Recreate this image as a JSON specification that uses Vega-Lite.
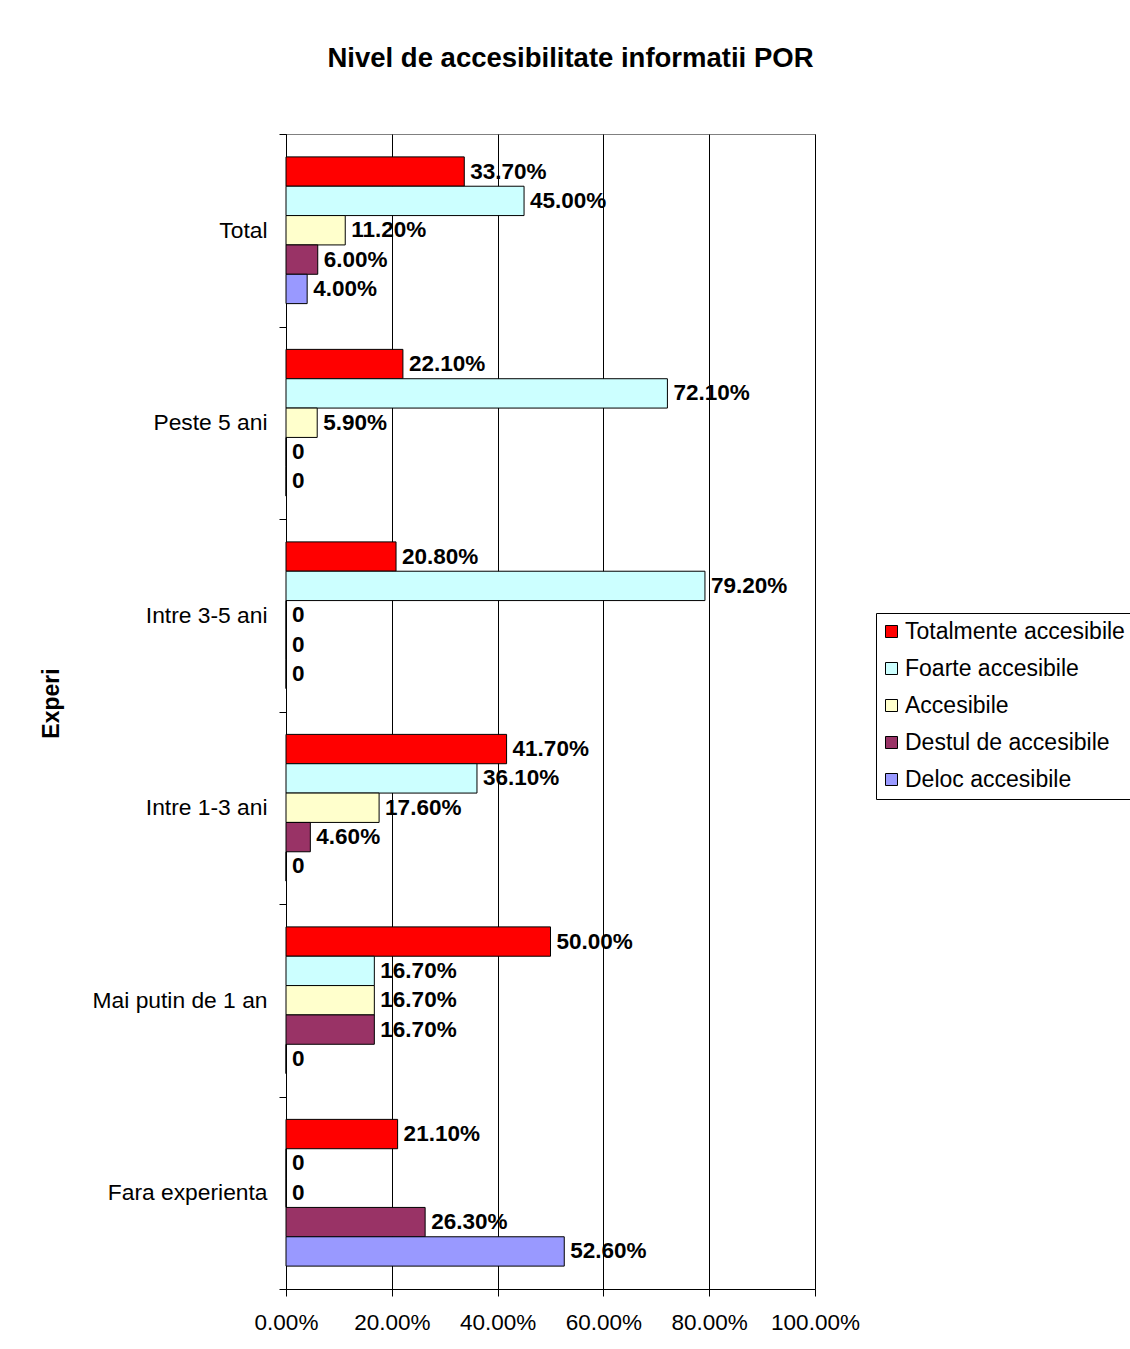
{
  "$schema": "https://vega.github.io/schema/vega-lite/v6.json",
  "autosize": {"type": "none"},
  "padding": {"left": 286, "top": 134, "right": 315, "bottom": 60},
  "width": 529,
  "height": 1155,
  "background": "white",
  "title": {
    "text": "Nivel de accesibilitate informatii POR",
    "fontSize": 27.5,
    "fontWeight": "bold",
    "font": "Liberation Sans",
    "color": "black",
    "anchor": "middle",
    "baseline": "alphabetic",
    "offset": 29,
    "dx": 20
  },
  "data": {
    "values": [
      {"cat": "Total", "series": "Totalmente accesibile", "v": 0.337},
      {"cat": "Total", "series": "Foarte accesibile", "v": 0.45},
      {"cat": "Total", "series": "Accesibile", "v": 0.112},
      {"cat": "Total", "series": "Destul de accesibile", "v": 0.06},
      {"cat": "Total", "series": "Deloc accesibile", "v": 0.04},
      {"cat": "Peste 5 ani", "series": "Totalmente accesibile", "v": 0.221},
      {"cat": "Peste 5 ani", "series": "Foarte accesibile", "v": 0.721},
      {"cat": "Peste 5 ani", "series": "Accesibile", "v": 0.059},
      {"cat": "Peste 5 ani", "series": "Destul de accesibile", "v": 0},
      {"cat": "Peste 5 ani", "series": "Deloc accesibile", "v": 0},
      {"cat": "Intre 3-5 ani", "series": "Totalmente accesibile", "v": 0.208},
      {"cat": "Intre 3-5 ani", "series": "Foarte accesibile", "v": 0.792},
      {"cat": "Intre 3-5 ani", "series": "Accesibile", "v": 0},
      {"cat": "Intre 3-5 ani", "series": "Destul de accesibile", "v": 0},
      {"cat": "Intre 3-5 ani", "series": "Deloc accesibile", "v": 0},
      {"cat": "Intre 1-3 ani", "series": "Totalmente accesibile", "v": 0.417},
      {"cat": "Intre 1-3 ani", "series": "Foarte accesibile", "v": 0.361},
      {"cat": "Intre 1-3 ani", "series": "Accesibile", "v": 0.176},
      {"cat": "Intre 1-3 ani", "series": "Destul de accesibile", "v": 0.046},
      {"cat": "Intre 1-3 ani", "series": "Deloc accesibile", "v": 0},
      {"cat": "Mai putin de 1 an", "series": "Totalmente accesibile", "v": 0.5},
      {"cat": "Mai putin de 1 an", "series": "Foarte accesibile", "v": 0.167},
      {"cat": "Mai putin de 1 an", "series": "Accesibile", "v": 0.167},
      {"cat": "Mai putin de 1 an", "series": "Destul de accesibile", "v": 0.167},
      {"cat": "Mai putin de 1 an", "series": "Deloc accesibile", "v": 0},
      {"cat": "Fara experienta", "series": "Totalmente accesibile", "v": 0.211},
      {"cat": "Fara experienta", "series": "Foarte accesibile", "v": 0},
      {"cat": "Fara experienta", "series": "Accesibile", "v": 0},
      {"cat": "Fara experienta", "series": "Destul de accesibile", "v": 0.263},
      {"cat": "Fara experienta", "series": "Deloc accesibile", "v": 0.526}
    ]
  },
  "transform": [
    {"calculate": "datum.v == 0 ? '0' : format(datum.v, '.2%')", "as": "label"}
  ],
  "encoding": {
    "y": {
      "field": "cat",
      "type": "nominal",
      "sort": ["Total", "Peste 5 ani", "Intre 3-5 ani", "Intre 1-3 ani", "Mai putin de 1 an", "Fara experienta"],
      "scale": {"paddingInner": 0, "paddingOuter": 0},
      "axis": {
        "title": "Experi",
        "titleFont": "Liberation Sans",
        "titleFontSize": 23,
        "titleFontWeight": "bold",
        "titleColor": "black",
        "titleAngle": -90,
        "titleBaseline": "alphabetic",
        "titleAlign": "center",
        "titleX": -228,
        "titleY": 569,
        "labelFont": "Liberation Sans",
        "labelFontSize": 22.8,
        "labelColor": "black",
        "labelPadding": 12,
        "domainColor": "black",
        "domainWidth": 1,
        "tickColor": "black",
        "tickSize": 7,
        "tickBand": "extent",
        "grid": false
      }
    },
    "yOffset": {
      "field": "series",
      "type": "nominal",
      "sort": ["Totalmente accesibile", "Foarte accesibile", "Accesibile", "Destul de accesibile", "Deloc accesibile"],
      "scale": {"paddingInner": 0, "paddingOuter": 0.78}
    },
    "x": {
      "field": "v",
      "type": "quantitative",
      "scale": {"domain": [0, 1], "nice": false},
      "axis": {
        "title": null,
        "format": ".2%",
        "values": [0, 0.2, 0.4, 0.6, 0.8, 1],
        "labelFont": "Liberation Sans",
        "labelFontSize": 22.5,
        "labelColor": "black",
        "labelPadding": 15,
        "labelOverlap": false,
        "labelFlush": false,
        "domainColor": "black",
        "domainWidth": 1,
        "tickColor": "black",
        "tickSize": 7,
        "grid": true,
        "gridColor": "black",
        "gridWidth": 1,
        "gridOpacity": 1
      }
    }
  },
  "layer": [
    {
      "mark": {"type": "bar", "stroke": "black", "strokeWidth": 1},
      "encoding": {
        "color": {
          "field": "series",
          "type": "nominal",
          "sort": ["Totalmente accesibile", "Foarte accesibile", "Accesibile", "Destul de accesibile", "Deloc accesibile"],
          "scale": {
            "domain": ["Totalmente accesibile", "Foarte accesibile", "Accesibile", "Destul de accesibile", "Deloc accesibile"],
            "range": ["#FF0000", "#CCFFFF", "#FFFFCC", "#993366", "#9999FF"]
          },
          "legend": {
            "title": null,
            "orient": "none",
            "legendX": 590,
            "legendY": 479,
            "strokeColor": "black",
            "fillColor": "white",
            "padding": 7,
            "symbolType": "square",
            "symbolSize": 144,
            "symbolOffset": -3,
            "symbolStrokeColor": "black",
            "symbolStrokeWidth": 1,
            "symbolOpacity": 1,
            "labelFont": "Liberation Sans",
            "labelFontSize": 23,
            "labelColor": "black",
            "labelOffset": 2,
            "labelLimit": 400,
            "rowPadding": 13
          }
        }
      }
    },
    {
      "mark": {
        "type": "text",
        "align": "left",
        "baseline": "middle",
        "dx": 6,
        "font": "Liberation Sans",
        "fontSize": 22.5,
        "fontWeight": "bold",
        "color": "black"
      },
      "encoding": {
        "text": {"field": "label"}
      }
    }
  ],
  "config": {
    "view": {"stroke": "#808080", "strokeWidth": 1}
  }
}
